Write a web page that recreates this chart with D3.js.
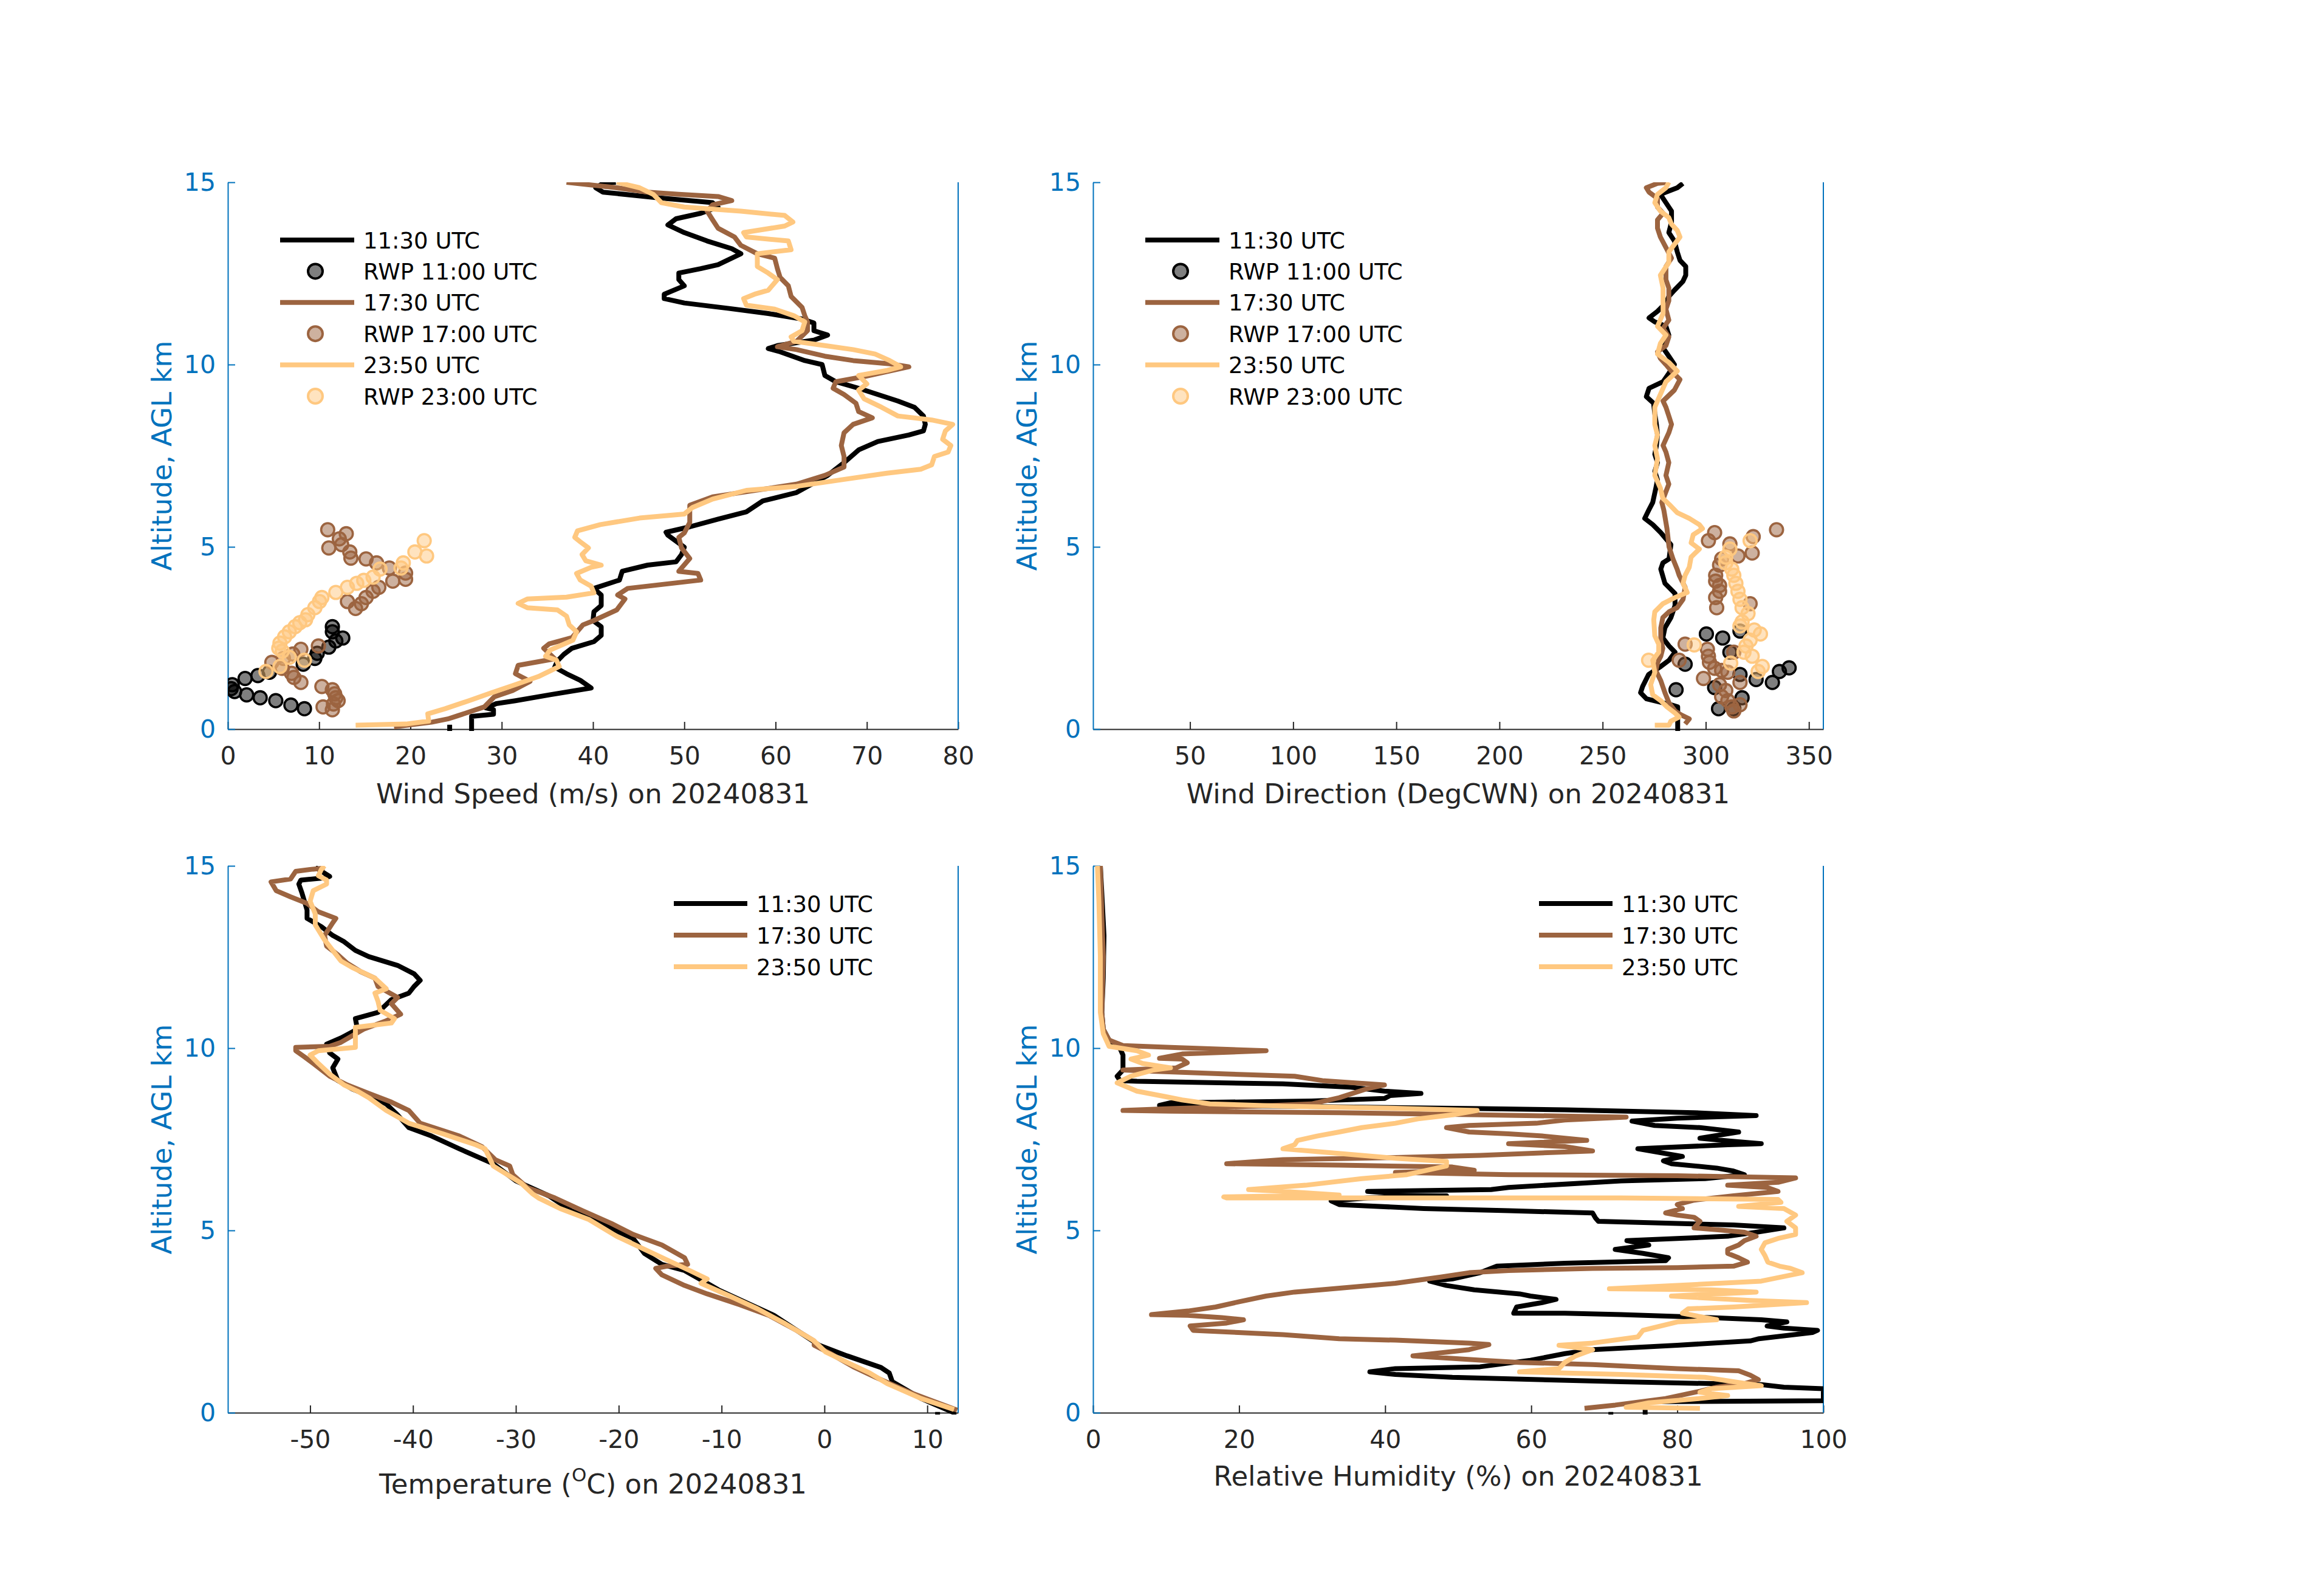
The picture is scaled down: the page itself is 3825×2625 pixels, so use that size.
<!DOCTYPE html>
<html>
<head>
<meta charset="utf-8">
<script src="https://cdn.jsdelivr.net/npm/d3@7"></script>
<style>
  body { margin: 0; background: #fff; }
  text { font-family: "DejaVu Sans", sans-serif; }
</style>
</head>
<body>
<svg id="chart" width="3825" height="2625"></svg>
<script>
// ---- data (value, altitude km AGL) ----
const dateLabel = "20240831"
const altTicks = [0, 5, 10, 15]
const sondeTimes = ["11:30 UTC", "17:30 UTC", "23:50 UTC"]
const rwpTimes = ["RWP 11:00 UTC", "RWP 17:00 UTC", "RWP 23:00 UTC"]
const colors = ["#000000", "#9c6440", "#ffc880"]

const speedTicks = [0, 10, 20, 30, 40, 50, 60, 70, 80]
const dirTicks = [50, 100, 150, 200, 250, 300, 350]
const tempTicks = [-50, -40, -30, -20, -10, 0, 10]
const rhTicks = [0, 20, 40, 60, 80, 100]

const wspd1130 = [[24.3,0.12],[24.3,-0.2],[26.7,-0.2],[26.7,0],[26.7,0.35],[29.1,0.41],[29.1,0.53],[28.3,0.58],[29.4,0.70],[31.5,0.78],[35.2,0.94],[39.8,1.13],[38.6,1.34],[37.1,1.52],[35.8,1.70],[36.1,1.87],[36.8,2.05],[37.7,2.22],[40.1,2.40],[40.9,2.57],[40.9,2.81],[40.0,2.98],[40.1,3.22],[40.9,3.39],[40.9,3.68],[40.1,3.86],[42.9,4.09],[43.2,4.33],[46.0,4.50],[49.1,4.59],[49.7,4.79],[50.0,4.99],[48.2,5.32],[48.0,5.40],[50.6,5.55],[53.7,5.76],[56.8,5.96],[58.6,6.26],[62.3,6.49],[63.5,6.66],[65.7,6.96],[67.5,7.31],[69.1,7.66],[71.2,7.89],[74.6,8.07],[76.2,8.18],[76.4,8.36],[76.2,8.59],[75.2,8.83],[73.4,9.00],[71.2,9.18],[69.1,9.35],[66.6,9.53],[65.4,9.70],[65.1,10.0],[63.2,10.11],[60.5,10.35],[59.2,10.44],[60.2,10.52],[64.2,10.67],[65.7,10.81],[64.2,10.93],[64.2,11.14],[62.9,11.25],[59.2,11.40],[54.9,11.54],[50.0,11.69],[47.8,11.81],[47.8,11.93],[50.0,12.16],[49.4,12.33],[49.4,12.51],[51.8,12.63],[53.7,12.74],[56.2,13.04],[55.2,13.18],[52.5,13.39],[50.0,13.62],[48.2,13.83],[49.1,14.0],[51.8,14.15],[53.7,14.32],[53.1,14.44],[46.9,14.58],[41.1,14.73],[40.3,14.85],[41.1,14.97],[42.5,15.0]]
const wspd1730 = [[18.2,0.06],[22.3,0.19],[24.1,0.28],[25.1,0.36],[28.1,0.61],[29.2,0.89],[31.2,1.06],[33.1,1.31],[31.5,1.52],[31.8,1.75],[35.8,1.93],[34.6,2.22],[35.2,2.34],[37.7,2.51],[38.9,2.86],[40.1,2.98],[42.6,3.27],[43.5,3.57],[42.7,3.68],[43.8,3.86],[51.8,4.09],[51.5,4.27],[49.4,4.33],[50.6,4.68],[49.7,4.97],[49.4,5.26],[50.0,5.38],[50.6,5.67],[50.6,6.14],[53.1,6.37],[56.2,6.49],[62.3,6.72],[65.4,6.96],[67.5,7.19],[67.5,7.48],[67.2,7.78],[67.5,8.13],[68.5,8.36],[70.6,8.54],[69.1,8.71],[68.8,8.94],[67.5,9.18],[66.3,9.35],[66.6,9.53],[69.7,9.67],[74.6,9.94],[72.5,10.02],[68.5,10.11],[65.4,10.23],[62.3,10.41],[60.2,10.49],[62.3,10.64],[63.5,10.93],[63.5,11.17],[63.2,11.34],[62.9,11.57],[61.7,11.87],[61.4,12.16],[60.5,12.39],[60.2,12.63],[59.9,12.92],[58.0,13.04],[56.2,13.27],[55.5,13.5],[53.7,13.74],[53.1,13.97],[52.5,14.21],[53.1,14.38],[55.2,14.50],[53.7,14.61],[49.4,14.67],[46.0,14.73],[42.6,14.85],[37.1,15.0]]
const wspd2350 = [[14.0,0.11],[19.5,0.14],[22.0,0.22],[21.9,0.42],[23.8,0.56],[26.4,0.78],[28.9,1.0],[31.5,1.22],[34.0,1.44],[36.3,1.72],[36.0,1.89],[34.8,2.0],[35.3,2.17],[37.8,2.44],[38.2,2.67],[37.4,2.86],[37.1,3.10],[36.1,3.27],[32.8,3.33],[31.8,3.45],[32.8,3.57],[37.1,3.62],[40.1,3.74],[39.8,3.92],[38.6,4.09],[38.2,4.27],[39.8,4.44],[40.9,4.50],[39.2,4.62],[38.8,4.79],[39.5,4.97],[38.6,5.14],[38.0,5.26],[38.3,5.44],[40.8,5.61],[45.1,5.79],[50.0,5.90],[50.9,6.08],[53.1,6.31],[56.8,6.55],[62.3,6.66],[67.2,6.84],[72.2,7.02],[75.9,7.13],[77.1,7.25],[77.4,7.48],[78.9,7.60],[79.2,7.78],[78.3,7.95],[78.6,8.18],[79.4,8.36],[77.1,8.48],[73.4,8.59],[71.6,8.83],[69.7,9.06],[69.1,9.30],[70.0,9.47],[69.1,9.70],[72.2,9.84],[73.7,9.94],[72.5,10.11],[70.9,10.29],[68.5,10.41],[65.4,10.52],[62.0,10.64],[61.7,10.76],[62.9,10.93],[63.2,11.17],[62.0,11.34],[59.9,11.52],[56.8,11.63],[56.5,11.81],[57.7,11.93],[59.2,12.04],[60.2,12.33],[59.2,12.51],[58.0,12.69],[58.0,12.92],[58.0,13.04],[61.7,13.15],[61.4,13.39],[56.8,13.50],[56.5,13.62],[61.0,13.80],[61.9,13.91],[61.0,14.09],[56.2,14.21],[50.0,14.32],[47.5,14.44],[46.6,14.67],[45.1,14.85],[42.6,15.0]]

const rwpSpd1100 = [[8.39,0.56],[6.91,0.66],[5.25,0.78],[3.54,0.86],[2.06,0.94],[0.74,1.03],[0.36,1.11],[0.48,1.22],[1.89,1.39],[3.29,1.47],[4.56,1.56],[8.26,1.78],[9.53,1.94],[9.79,2.08],[11.06,2.25],[11.83,2.42],[12.59,2.50],[11.45,2.67],[11.45,2.81]]
const rwpSpd1700 = [[10.94,5.47],[12.97,5.36],[12.21,5.22],[12.47,5.06],[11.06,4.97],[13.36,4.86],[13.48,4.69],[15.14,4.67],[16.29,4.56],[17.69,4.42],[19.47,4.28],[19.47,4.11],[18.07,4.06],[16.54,3.89],[15.91,3.78],[15.14,3.61],[14.63,3.44],[13.10,3.5],[13.99,3.31],[9.92,2.28],[8.00,2.19],[7.11,2.06],[6.09,1.94],[4.82,1.83],[5.96,1.67],[6.98,1.53],[7.24,1.42],[8.00,1.28],[10.30,1.17],[11.45,1.08],[11.70,0.97],[11.83,0.86],[12.08,0.78],[11.57,0.69],[10.43,0.61],[11.45,0.53]]
const rwpSpd2300 = [[21.51,5.17],[21.77,4.75],[20.49,4.86],[19.22,4.56],[18.97,4.42],[16.67,4.39],[15.91,4.17],[14.89,4.08],[14.12,4.0],[13.10,3.89],[11.83,3.75],[10.30,3.61],[10.04,3.5],[9.53,3.33],[8.77,3.14],[8.51,3.0],[7.88,2.92],[7.37,2.81],[6.73,2.67],[6.22,2.53],[5.71,2.36],[5.58,2.22],[5.96,2.14],[6.73,1.97],[8.39,1.89],[5.71,1.72],[4.18,1.58]]

const wdir1130 = [[286.4,-0.2],[286.4,0],[286.4,0.3],[286.4,0.61],[283.1,0.67],[271.3,0.83],[268.4,1.0],[269.4,1.17],[272.3,1.5],[278.2,1.72],[282.2,1.89],[285.1,2.11],[282.2,2.28],[279.2,2.5],[280.2,2.78],[283.1,3.06],[285.1,3.39],[285.1,3.72],[280.2,4.0],[278.2,4.39],[279.2,4.56],[282.2,4.67],[283.1,5.06],[278.2,5.39],[274.3,5.61],[270.4,5.78],[272.3,6.0],[274.3,6.22],[275.8,6.61],[276.6,6.84],[275.3,7.07],[276.6,7.31],[275.3,7.54],[276.1,7.78],[276.6,8.07],[276.1,8.36],[275.3,8.65],[274.7,8.94],[271.2,9.12],[272.5,9.35],[279.3,9.53],[282.1,9.76],[284.8,10.0],[282.1,10.23],[279.3,10.46],[280.7,10.64],[282.1,10.81],[280.7,11.05],[275.3,11.17],[272.5,11.28],[276.6,11.46],[280.7,11.69],[282.1,11.87],[284.8,12.04],[288.9,12.28],[290.3,12.45],[290.3,12.69],[287.5,12.86],[286.2,13.09],[284.8,13.39],[282.1,13.62],[283.4,13.91],[283.4,14.21],[280.7,14.44],[278.0,14.67],[286.2,14.85],[288.9,14.97]]
const wdir1730 = [[290.0,0.14],[292.0,0.28],[288.1,0.39],[285.1,0.5],[282.2,0.72],[280.2,1.0],[278.2,1.33],[275.8,1.61],[276.7,1.83],[278.2,2.0],[279.2,2.22],[278.2,2.44],[278.2,2.78],[279.2,3.06],[282.2,3.22],[286.1,3.33],[289.0,3.56],[290.0,3.89],[287.1,4.22],[286.1,4.39],[284.1,4.67],[282.2,5.0],[281.2,5.5],[279.7,6.0],[278.7,6.22],[282.1,6.72],[280.7,6.96],[282.1,7.31],[280.7,7.60],[279.3,7.78],[282.1,8.13],[283.4,8.36],[282.1,8.59],[280.7,8.83],[279.3,9.0],[284.8,9.30],[287.5,9.59],[283.4,9.82],[280.7,10.0],[278.0,10.17],[276.6,10.35],[280.7,10.52],[282.1,10.76],[279.3,10.99],[282.1,11.22],[280.7,11.52],[282.1,11.75],[282.1,12.1],[280.7,12.33],[280.7,12.69],[283.4,12.92],[280.7,13.21],[278.0,13.50],[276.6,13.74],[276.6,13.97],[279.3,14.15],[276.6,14.32],[276.6,14.56],[272.5,14.73],[271.2,14.85],[276.6,14.97],[282.1,15.0]]
const wdir2350 = [[275.3,0.11],[282.2,0.11],[283.1,0.22],[287.1,0.33],[285.1,0.44],[281.2,0.61],[278.2,0.78],[274.3,0.94],[273.3,1.22],[275.3,1.56],[274.3,1.89],[277.2,2.11],[277.2,2.33],[275.3,2.56],[274.8,3.0],[275.3,3.22],[279.2,3.44],[285.1,3.61],[291.0,3.75],[289.0,4.0],[290.0,4.22],[292.0,4.44],[292.9,4.72],[296.9,4.94],[292.9,5.11],[293.9,5.33],[298.4,5.5],[296.9,5.61],[292.0,5.78],[286.1,5.94],[282.2,6.17],[279.2,6.33],[278.0,6.61],[275.3,6.96],[276.6,7.42],[275.3,7.78],[276.6,8.07],[275.3,8.36],[275.3,8.83],[278.0,9.18],[280.7,9.53],[286.2,9.82],[282.1,10.06],[276.6,10.29],[278.0,10.58],[280.7,10.81],[276.6,11.05],[279.3,11.40],[279.3,11.75],[279.3,12.1],[278.0,12.45],[282.1,12.80],[282.1,13.09],[287.5,13.50],[286.2,13.68],[283.4,13.85],[282.1,14.03],[278.0,14.21],[275.3,14.44],[276.6,14.67],[280.7,14.85],[282.1,15.0]]

const rwpDir1100 = [[300.3,2.61],[308.2,2.50],[311.7,2.11],[316.6,2.69],[290.0,1.78],[316.6,1.5],[324.4,1.36],[332.3,1.28],[335.7,1.58],[340.4,1.68],[285.6,1.08],[304.3,1.14],[317.6,0.86],[306.2,0.56],[313.6,0.56]]
const rwpDir1700 = [[304.3,5.39],[301.3,5.17],[311.7,5.08],[323.0,5.28],[334.3,5.47],[322.5,4.83],[315.6,4.75],[307.7,4.67],[306.7,4.50],[304.8,4.22],[304.8,4.06],[306.7,3.94],[306.7,3.78],[304.8,3.61],[305.3,3.33],[321.5,3.44],[290.0,2.33],[287.1,1.89],[300.8,2.19],[301.3,2.0],[301.8,1.83],[304.3,1.67],[307.7,1.61],[310.7,1.56],[298.9,1.39],[306.7,1.22],[309.7,1.06],[307.7,0.89],[310.7,0.78],[312.6,0.61],[316.6,0.67],[313.6,0.5],[316.6,1.28],[313.6,2.11]]
const rwpDir2300 = [[321.5,5.17],[311.7,4.94],[309.7,4.72],[309.7,4.56],[312.6,4.39],[313.6,4.22],[314.6,4.0],[315.6,3.78],[316.6,3.56],[317.6,3.33],[320.5,3.17],[317.6,2.94],[316.6,2.83],[323.5,2.72],[326.5,2.61],[321.5,2.44],[319.5,2.28],[318.5,2.11],[322.5,2.0],[327.4,1.72],[325.4,1.58],[312.1,1.81],[294.4,2.31],[272.3,1.89]]

const temp1130 = [[11.0,0.02],[11.0,-0.2],[12.6,-0.2],[12.6,0],[9.4,0.39],[6.6,0.85],[6.3,1.09],[5.5,1.24],[2.2,1.56],[-0.5,1.85],[-2.7,2.26],[-4.9,2.67],[-7.6,3.02],[-10.3,3.37],[-11.4,3.55],[-13.6,3.90],[-15.8,4.07],[-17.5,4.37],[-18.6,4.78],[-21.3,5.13],[-24.6,5.54],[-26.8,5.95],[-30.0,6.36],[-32.2,6.83],[-35.5,7.24],[-38.2,7.59],[-40.4,7.82],[-41.5,8.17],[-42.6,8.47],[-44.3,8.70],[-45.9,8.88],[-47.3,9.11],[-47.8,9.46],[-47.3,9.70],[-48.1,9.87],[-48.4,10.11],[-47.0,10.28],[-45.4,10.52],[-45.6,10.81],[-43.4,10.98],[-42.1,11.33],[-40.4,11.51],[-39.9,11.69],[-39.3,11.86],[-39.9,12.04],[-41.5,12.27],[-44.3,12.51],[-45.6,12.68],[-46.7,12.92],[-47.8,13.09],[-48.9,13.33],[-50.3,13.56],[-50.3,13.79],[-50.8,14.26],[-51.1,14.50],[-50.9,14.61],[-48.6,14.67],[-48.1,14.71],[-49.5,14.96]]
const temp1730 = [[12.9,0.07],[8.3,0.56],[5.0,0.97],[2.8,1.26],[0.6,1.62],[-1.0,1.85],[-1.0,1.97],[-2.7,2.26],[-5.4,2.67],[-8.2,2.96],[-11.4,3.26],[-13.6,3.49],[-15.8,3.78],[-16.4,3.96],[-15.3,4.02],[-13.3,4.07],[-13.6,4.25],[-15.8,4.60],[-18.6,4.89],[-20.7,5.19],[-23.5,5.54],[-26.2,5.89],[-28.9,6.18],[-30.3,6.53],[-30.6,6.77],[-32.0,6.94],[-33.3,7.30],[-35.5,7.59],[-39.3,7.94],[-40.4,8.29],[-42.1,8.52],[-44.3,8.76],[-46.4,8.99],[-48.1,9.23],[-49.7,9.58],[-50.5,9.75],[-51.4,9.93],[-51.4,10.02],[-48.1,10.05],[-47.0,10.16],[-44.8,10.52],[-42.6,10.75],[-41.2,10.93],[-42.1,11.22],[-41.5,11.39],[-43.4,11.69],[-43.7,11.92],[-45.1,12.10],[-46.4,12.33],[-47.3,12.56],[-48.4,12.80],[-48.6,13.09],[-47.8,13.44],[-47.5,13.56],[-49.2,13.74],[-50.3,13.97],[-51.9,14.15],[-53.3,14.32],[-53.8,14.56],[-51.9,14.64],[-51.4,14.85],[-49.7,14.91],[-48.6,14.94]]
const temp2350 = [[12.6,0.09],[9.4,0.39],[6.1,0.80],[4.4,1.09],[2.2,1.38],[0.1,1.67],[-1.0,1.97],[-3.8,2.44],[-6.5,2.85],[-9.2,3.20],[-12.0,3.55],[-11.4,3.67],[-13.1,3.90],[-15.3,4.19],[-17.5,4.48],[-20.2,4.84],[-22.9,5.30],[-25.7,5.60],[-27.8,5.89],[-28.4,6.01],[-29.5,6.30],[-32.2,6.77],[-33.0,7.24],[-33.9,7.35],[-37.1,7.65],[-40.4,7.94],[-42.6,8.29],[-44.3,8.64],[-45.4,8.82],[-46.7,8.99],[-48.1,9.29],[-49.2,9.58],[-50.0,9.81],[-49.2,9.93],[-45.6,10.02],[-45.6,10.28],[-45.6,10.57],[-42.1,10.69],[-41.8,10.81],[-43.2,11.04],[-43.4,11.28],[-43.7,11.51],[-42.6,11.63],[-43.7,11.92],[-45.9,12.21],[-47.0,12.39],[-47.8,12.68],[-48.6,12.97],[-49.5,13.38],[-49.5,13.68],[-50.0,14.03],[-49.7,14.32],[-48.4,14.50],[-48.4,14.61],[-49.2,14.73],[-48.9,14.91],[-48.6,15.0]]

const rh1130 = [[70.9,0.02],[70.9,-0.2],[75.6,-0.2],[75.6,0],[75.6,0.30],[100,0.33],[100,0.66],[94.6,0.70],[91.5,0.77],[72.3,0.85],[49.2,0.97],[41.4,1.05],[37.9,1.12],[41.4,1.21],[53.0,1.26],[59.9,1.44],[64.6,1.62],[68.4,1.73],[80.0,1.85],[90.0,1.97],[91.2,2.03],[98.5,2.20],[99.2,2.26],[94.6,2.32],[92.3,2.38],[95.0,2.49],[91.5,2.55],[84.6,2.61],[72.3,2.69],[64.6,2.73],[57.6,2.73],[58.0,2.90],[61.5,3.02],[63.4,3.11],[59.9,3.20],[58.4,3.26],[52.2,3.37],[48.4,3.49],[46.1,3.61],[49.2,3.67],[53.0,3.84],[55.3,4.02],[64.6,4.10],[78.4,4.17],[78.8,4.25],[75.3,4.37],[71.5,4.48],[76.1,4.60],[73.1,4.72],[80.0,4.78],[86.9,4.84],[90.8,4.95],[94.6,5.07],[87.7,5.15],[80.0,5.19],[69.2,5.25],[68.8,5.34],[68.4,5.48],[56.9,5.54],[45.3,5.60],[33.7,5.71],[32.6,5.81],[37.6,5.89],[48.4,5.95],[41.4,6.01],[37.6,6.07],[54.5,6.12],[56.9,6.18],[72.3,6.36],[83.8,6.42],[89.2,6.53],[87.7,6.63],[85.4,6.71],[79.2,6.83],[78.1,6.91],[80.7,7.03],[74.6,7.24],[86.9,7.35],[91.5,7.38],[86.1,7.47],[83.1,7.53],[88.4,7.70],[83.1,7.82],[76.9,7.88],[73.8,8.0],[80.0,8.08],[90.8,8.15],[82.3,8.23],[64.6,8.31],[53.0,8.34],[26.0,8.41],[9.1,8.43],[10.6,8.50],[29.9,8.55],[39.9,8.62],[40.7,8.70],[44.9,8.76],[39.9,8.82],[35.3,8.93],[26.0,9.02],[6.0,9.09],[3.7,9.11],[3.3,9.23],[4.1,9.40],[4.1,9.58],[4.1,9.81],[3.7,9.99],[2.2,10.22],[1.4,10.52],[1.2,10.98],[1.4,11.92],[1.5,13.09],[1.2,14.26],[1.0,15.0]]
const rh1730 = [[67.3,0.12],[71.5,0.21],[78.4,0.39],[83.1,0.59],[85.4,0.70],[89.2,0.80],[91.1,0.91],[90.0,1.03],[88.4,1.15],[80.0,1.21],[68.4,1.32],[58.4,1.38],[53.0,1.44],[43.8,1.56],[51.5,1.73],[54.2,1.87],[51.5,1.91],[41.4,1.99],[33.7,2.03],[26.0,2.14],[19.9,2.20],[13.7,2.26],[13.3,2.38],[18.3,2.46],[20.6,2.55],[17.6,2.61],[13.0,2.67],[8.0,2.69],[13.0,2.79],[16.8,2.90],[19.9,3.04],[23.7,3.20],[27.6,3.31],[34.5,3.43],[41.4,3.55],[47.6,3.72],[51.5,3.84],[56.9,3.90],[68.4,3.96],[80.0,3.98],[87.7,4.02],[89.6,4.13],[88.4,4.25],[86.9,4.37],[86.9,4.48],[88.4,4.60],[89.2,4.72],[90.8,4.84],[89.2,4.95],[86.1,5.01],[82.3,5.07],[83.1,5.25],[82.3,5.36],[80.0,5.42],[78.4,5.48],[80.7,5.60],[80.0,5.71],[82.3,5.83],[87.7,5.95],[93.8,6.07],[92.3,6.18],[86.9,6.24],[93.8,6.32],[96.2,6.44],[80.0,6.50],[56.9,6.53],[41.4,6.59],[52.2,6.65],[49.2,6.74],[33.7,6.79],[18.3,6.83],[26.0,6.94],[41.4,7.0],[53.0,7.06],[68.4,7.18],[64.6,7.30],[56.9,7.38],[67.6,7.47],[61.5,7.59],[56.9,7.65],[51.5,7.70],[48.4,7.82],[51.5,7.88],[60.7,7.94],[64.6,8.03],[73.0,8.11],[53.0,8.17],[33.7,8.23],[10.6,8.27],[4.1,8.29],[10.6,8.34],[22.2,8.41],[29.9,8.47],[33.7,8.64],[37.4,8.88],[39.9,8.99],[31.4,9.11],[27.6,9.23],[18.3,9.29],[7.6,9.37],[4.1,9.40],[11.4,9.46],[12.9,9.60],[12.2,9.70],[9.1,9.72],[12.2,9.84],[23.7,9.93],[10.6,10.02],[4.1,10.07],[2.2,10.22],[1.4,10.52],[1.2,10.98],[1.4,12.51],[1.2,13.68],[1.0,15.0]]
const rh2350 = [[83.1,0.12],[73.0,0.15],[76.1,0.27],[83.1,0.39],[86.9,0.47],[83.1,0.56],[84.6,0.66],[91.5,0.74],[87.7,0.85],[83.8,0.97],[72.3,1.05],[58.4,1.12],[63.8,1.21],[64.6,1.38],[66.1,1.56],[68.4,1.73],[63.8,1.85],[68.4,1.91],[74.6,2.08],[75.3,2.26],[80.0,2.49],[85.4,2.55],[80.7,2.73],[81.5,2.85],[87.7,2.90],[97.7,3.02],[90.0,3.08],[79.2,3.20],[90.8,3.31],[84.6,3.37],[70.7,3.40],[80.0,3.49],[91.5,3.61],[97.1,3.84],[95.5,3.96],[94.0,4.02],[92.4,4.13],[92.0,4.31],[91.5,4.48],[92.0,4.66],[93.8,4.78],[96.2,4.89],[96.2,5.07],[95.0,5.25],[96.2,5.42],[94.6,5.60],[88.4,5.66],[94.2,5.77],[93.8,5.85],[72.3,5.89],[49.2,5.89],[18.3,5.89],[17.9,5.92],[33.7,5.97],[26.0,6.07],[21.3,6.12],[29.1,6.24],[36.8,6.42],[43.0,6.53],[48.4,6.77],[48.4,6.89],[41.4,6.98],[36.8,7.06],[26.0,7.24],[27.6,7.35],[28.0,7.47],[30.7,7.59],[33.7,7.70],[36.8,7.82],[41.4,7.94],[44.5,8.06],[49.2,8.17],[52.6,8.29],[41.4,8.35],[26.0,8.41],[16.0,8.47],[12.2,8.58],[9.9,8.67],[6.0,8.82],[3.3,9.05],[5.2,9.23],[8.3,9.40],[10.6,9.46],[6.8,9.58],[5.2,9.70],[7.6,9.81],[6.0,9.93],[2.2,10.05],[1.4,10.40],[1.0,10.98],[1.0,12.51],[0.8,14.03],[0.6,15.0]]

// ---- layout ----
const W = 1202, H = 900
const blue = "#0072bd", axisGray = "#262626"
const lineWidth = 8
const svg = d3.select("#chart")

const panels = [
  { id: "spd", left: 375, top: 300, xDomain: [0, 80], xTicks: speedTicks,
    xLabel: [{ t: "Wind Speed (m/s) on " + dateLabel }], labelGap: 122,
    lines: [wspd1130, wspd1730, wspd2350], points: [rwpSpd1100, rwpSpd1700, rwpSpd2300] },
  { id: "dir", left: 1799, top: 300, xDomain: [3, 357], xTicks: dirTicks,
    xLabel: [{ t: "Wind Direction (DegCWN) on " + dateLabel }], labelGap: 122,
    lines: [wdir1130, wdir1730, wdir2350], points: [rwpDir1100, rwpDir1700, rwpDir2300] },
  { id: "tmp", left: 375, top: 1425, xDomain: [-58, 13], xTicks: tempTicks,
    xLabel: [{ t: "Temperature (" }, { t: "O", sup: true }, { t: "C) on " + dateLabel }], labelGap: 133,
    lines: [temp1130, temp1730, temp2350], points: null },
  { id: "rh", left: 1799, top: 1425, xDomain: [0, 100], xTicks: rhTicks,
    xLabel: [{ t: "Relative Humidity (%) on " + dateLabel }], labelGap: 120,
    lines: [rh1130, rh1730, rh2350], points: null }
]

panels.forEach(p => drawPanel(p))

function drawPanel(p) {
  const g = svg.append("g").attr("transform", `translate(${p.left},${p.top})`)

  const x = d3.scaleLinear().domain(p.xDomain).range([0, W])
  const y = d3.scaleLinear().domain([0, 15]).range([H, 0])

  g.append("clipPath").attr("id", "clip-" + p.id)
    .append("rect").attr("x", 0).attr("y", 0).attr("width", W).attr("height", H + 3)

  // axes (plain hyphen for negatives, like the original)
  const xAxis = g.append("g")
    .attr("transform", `translate(0,${H})`)
    .call(d3.axisBottom(x).tickValues(p.xTicks).tickFormat(d => String(d))
      .tickSizeInner(-12).tickSizeOuter(0).tickPadding(29))
  xAxis.select(".domain").attr("stroke", axisGray).attr("stroke-width", 2)
  xAxis.selectAll(".tick line").attr("stroke", axisGray).attr("stroke-width", 2)
  xAxis.selectAll(".tick text")
    .attr("fill", axisGray)
    .style("font-size", "41px")
    .style("font-family", "DejaVu Sans")

  const yAxis = g.append("g")
    .call(d3.axisLeft(y).tickValues(altTicks).tickFormat(d => String(d))
      .tickSizeInner(-12).tickSizeOuter(0).tickPadding(20))
  yAxis.select(".domain").attr("stroke", blue).attr("stroke-width", 2)
  yAxis.selectAll(".tick line").attr("stroke", blue).attr("stroke-width", 2)
  yAxis.selectAll(".tick text")
    .attr("fill", blue)
    .style("font-size", "41px")
    .style("font-family", "DejaVu Sans")

  g.append("line")
    .attr("x1", W).attr("x2", W).attr("y1", 0).attr("y2", H)
    .attr("stroke", blue).attr("stroke-width", 2)

  // labels
  g.append("text")
    .attr("transform", `translate(-93,${H / 2}) rotate(-90)`)
    .attr("text-anchor", "middle")
    .attr("fill", blue)
    .style("font-size", "45px")
    .text("Altitude, AGL km")

  const xl = g.append("text")
    .attr("x", W / 2)
    .attr("y", H + p.labelGap)
    .attr("text-anchor", "middle")
    .attr("fill", axisGray)
    .style("font-size", "45px")
  p.xLabel.forEach((part, i) => {
    if (part.sup) {
      xl.append("tspan").attr("dy", -20).style("font-size", "31px").text(part.t)
    } else {
      xl.append("tspan").attr("dy", i > 0 ? 20 : 0).text(part.t)
    }
  })

  // data
  const line = d3.line().x(d => x(d[0])).y(d => y(d[1]))
  const plot = g.append("g").attr("clip-path", `url(#clip-${p.id})`)

  p.lines.forEach((data, i) => {
    plot.append("path")
      .datum(data)
      .attr("d", line)
      .attr("fill", "none")
      .attr("stroke", colors[i])
      .attr("stroke-width", lineWidth)
      .attr("stroke-linejoin", "round")

    if (p.points) {
      plot.append("g").selectAll("circle")
        .data(p.points[i])
        .enter()
        .append("circle")
        .attr("cx", d => x(d[0]))
        .attr("cy", d => y(d[1]))
        .attr("r", 10.8)
        .attr("fill", colors[i])
        .attr("fill-opacity", 0.5)
        .attr("stroke", colors[i])
        .attr("stroke-width", 3.6)
    }
  })

  // legend
  const leg = g.append("g")
  if (p.points) {
    const rows = []
    sondeTimes.forEach((t, i) => {
      rows.push({ kind: "line", label: t, color: colors[i] })
      rows.push({ kind: "dot", label: rwpTimes[i], color: colors[i] })
    })
    rows.forEach((r, i) => {
      const ry = 95 + i * 51.4
      if (r.kind === "line") {
        leg.append("line")
          .attr("x1", 86).attr("x2", 208).attr("y1", ry).attr("y2", ry)
          .attr("stroke", r.color).attr("stroke-width", lineWidth)
      } else {
        leg.append("circle")
          .attr("cx", 144).attr("cy", ry).attr("r", 12)
          .attr("fill", r.color).attr("fill-opacity", 0.5)
          .attr("stroke", r.color).attr("stroke-width", 4)
      }
      leg.append("text")
        .attr("x", 223).attr("y", ry + 13.5)
        .attr("fill", "#000")
        .style("font-size", "37px")
        .text(r.label)
    })
  } else {
    sondeTimes.forEach((t, i) => {
      const ry = 62 + i * 52
      leg.append("line")
        .attr("x1", 734).attr("x2", 855).attr("y1", ry).attr("y2", ry)
        .attr("stroke", colors[i]).attr("stroke-width", lineWidth)
      leg.append("text")
        .attr("x", 870).attr("y", ry + 13.5)
        .attr("fill", "#000")
        .style("font-size", "37px")
        .text(t)
    })
  }
}
</script>
</body>
</html>
